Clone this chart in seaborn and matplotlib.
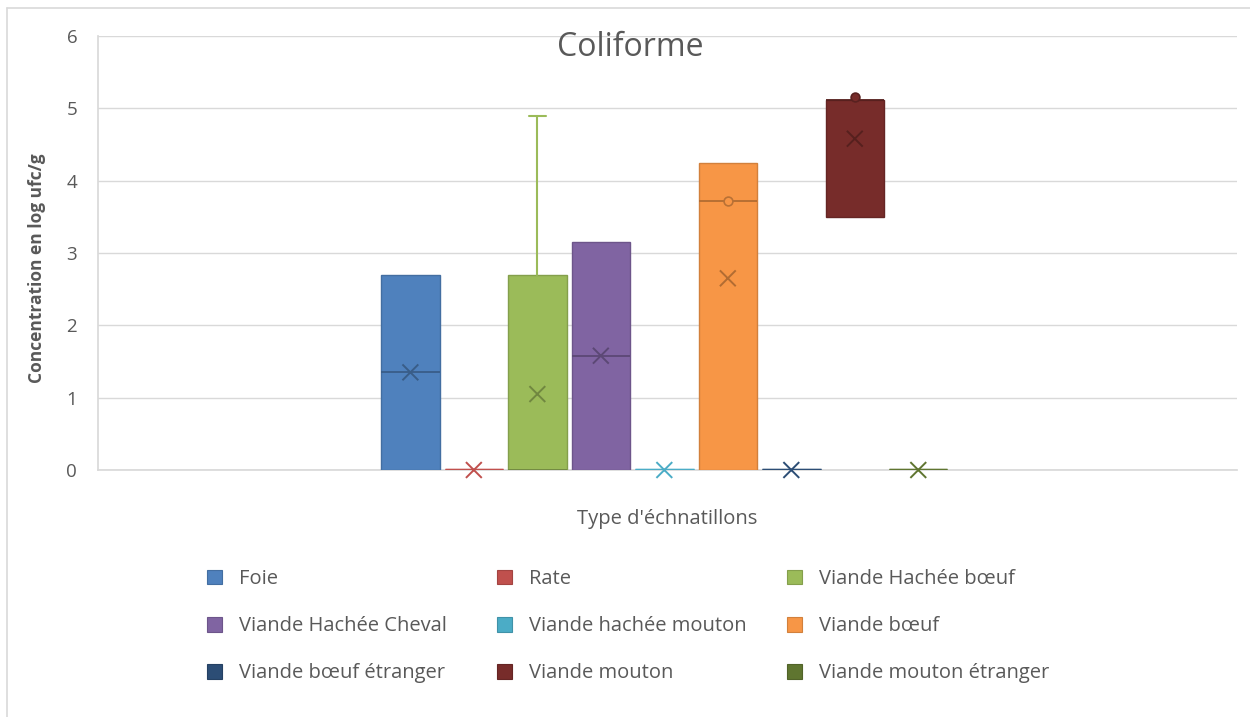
import matplotlib
matplotlib.use("Agg")
from matplotlib import pyplot as plt
from matplotlib.patches import Patch
from matplotlib.lines import Line2D
import matplotlib.colors as mcolors
import seaborn as sns
import pandas as pd

# values (log ufc/g)
series = ["Foie", "Rate", "Viande Hachée bœuf", "Viande Hachée Cheval",
          "Viande hachée mouton", "Viande bœuf", "Viande bœuf étranger",
          "Viande mouton", "Viande mouton étranger"]
colors = ["#4F81BD", "#C0504D", "#9BBB59", "#8064A2", "#4BACC6",
          "#F79646", "#2C4D75", "#772C2A", "#5F7530"]
q1 = [0, 0, 0, 0, 0, 0, 0, 3.5, 0]
q3 = [2.7, 0, 2.7, 3.15, 0, 4.25, 0, 5.12, 0]
medians = [1.35, 0, 0, 1.57, 0, 3.72, 0, 5.12, 0]
means = [1.35, 0, 1.05, 1.58, 0, 2.65, 0, 4.58, 0]
whis_lo = [0, 0, 0, 0, 0, 0, 0, 3.5, 0]
whis_hi = [2.7, 0, 4.9, 3.15, 0, 4.25, 0, 5.12, 0]
inner_series = ["Viande bœuf", "Viande mouton"]
inner_values = [3.72, 5.15]

title = "Coliforme"
xlabel = "Type d'échnatillons"
ylabel = "Concentration en log ufc/g"
grey = "#595959"


def darker(c, f=0.75):
    r, g, b = mcolors.to_rgb(c)
    return (r * f, g * f, b * f)


sns.set_theme(style="white")
plt.rcParams["font.family"] = ["Open Sans", "DejaVu Sans"]

pos_of = dict(zip(series, range(len(series))))
flat = [a == b for a, b in zip(q1, q3)]
mark_colors = [c if f else darker(c, 0.72) for c, f in zip(colors, flat)]
df = pd.DataFrame({"serie": series, "pos": range(len(series)), "mean": means})
inner_df = pd.DataFrame({"serie": inner_series,
                         "pos": [pos_of[s] for s in inner_series],
                         "value": inner_values})

fig = plt.figure(figsize=(12.5, 7.17), dpi=100)
ax = fig.add_axes([98 / 1250, 1 - 470 / 717, 1139 / 1250, 434 / 717])

for i, s in enumerate(series):
    c = colors[i]
    st = dict(label=s, q1=q1[i], q3=q3[i], med=medians[i], mean=means[i],
              whislo=whis_lo[i], whishi=whis_hi[i], fliers=[])
    has_whisker = whis_hi[i] > q3[i]
    ax.bxp([st], positions=[i], widths=0.92, patch_artist=True, showmeans=False,
           showfliers=False, showcaps=has_whisker, capwidths=0.27,
           boxprops=dict(facecolor=c, edgecolor=c if flat[i] else darker(c, 0.85),
                         linewidth=2.4 if flat[i] else 1.0),
           medianprops=dict(color=mark_colors[i], linewidth=2.4 if flat[i] else 1.3),
           whiskerprops=dict(color=c, linewidth=1.5, alpha=1 if has_whisker else 0),
           capprops=dict(color=c, linewidth=1.5), zorder=3)

pal = dict(zip(series, mark_colors))
sns.scatterplot(data=df, x="pos", y="mean", hue="serie", palette=pal, marker="x",
                s=130, linewidth=1.4, legend=False, ax=ax, zorder=5, clip_on=False)
for _, r in inner_df.iterrows():
    c = colors[pos_of[r["serie"]]]
    sns.scatterplot(x=[r["pos"]], y=[r["value"]], color=c, edgecolor=darker(c, 0.75),
                    s=40, linewidth=1.2, ax=ax, zorder=6, legend=False)

ax.set_xlim(-4.92, 13.02)
ax.set_ylim(0, 6)
ax.set_yticks(range(7))
ax.set_xticks([])
ax.set_xlabel("")
ax.set_ylabel("")
ax.yaxis.grid(True, color="#d9d9d9", linewidth=1.0)
ax.set_axisbelow(True)
for side in ["top", "right"]:
    ax.spines[side].set_visible(False)
ax.spines["left"].set_color("#d9d9d9")
ax.spines["bottom"].set_color("#d9d9d9")
ax.tick_params(axis="y", length=0, pad=15, labelsize=13.5, labelcolor=grey)

fig.text(630 / 1250, 1 - 48 / 717, title, ha="center", va="center", fontsize=23, color=grey)
fig.text(37 / 1250, 1 - 268 / 717, ylabel, ha="center", va="center", rotation=90,
         fontsize=12.5, fontweight="bold", color=grey)
fig.text(667 / 1250, 1 - 519 / 717, xlabel, ha="center", va="center", fontsize=14.5, color=grey)

# legend: three columns placed like the reference
col_x = [207, 497, 787]
for k in range(3):
    idx = [k, k + 3, k + 6]
    handles = [Patch(facecolor=colors[i], edgecolor=darker(colors[i], 0.85), linewidth=0.8)
               for i in idx]
    leg = fig.legend(handles, [series[i] for i in idx], loc="upper left",
                     bbox_to_anchor=(col_x[k] / 1250, 1 - 569 / 717), frameon=False,
                     fontsize=14.5, handlelength=0.75, handleheight=0.75, handletextpad=0.85,
                     labelspacing=1.35, borderpad=0, borderaxespad=0)
    for t in leg.get_texts():
        t.set_color(grey)

# chart frame lines (top and left)
fig.add_artist(Line2D([7 / 1250, 1], [1 - 8 / 717, 1 - 8 / 717], color="#d9d9d9", linewidth=1.2))
fig.add_artist(Line2D([7 / 1250, 7 / 1250], [0, 1 - 8 / 717], color="#d9d9d9", linewidth=1.2))

fig.savefig("out.png", dpi=100)
